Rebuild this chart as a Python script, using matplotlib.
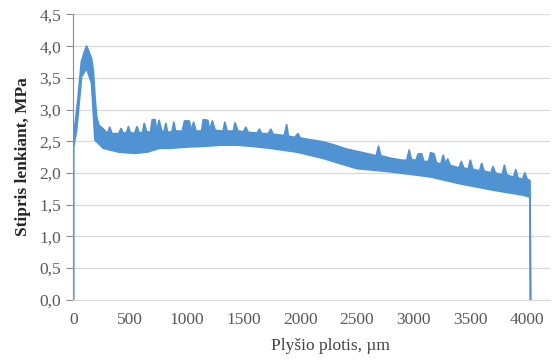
import numpy as np
import matplotlib
matplotlib.use("Agg")
import matplotlib.pyplot as plt
from matplotlib.ticker import FuncFormatter

# Viršutinė juostos riba (x, um ; y, MPa) nuskaityta nuo paveikslo
up_x = [0, 0, 20, 42, 70, 95, 116, 135, 160, 175, 190, 205, 225, 260, 300, 320, 340, 400,
        420, 440, 470, 485, 500, 540, 560, 580, 610, 625, 645, 680, 695, 720, 735, 755,
        780, 800, 815, 830, 870, 885, 900, 960, 980, 1020, 1040, 1060, 1080, 1130, 1145,
        1185, 1200, 1225, 1250, 1320, 1335, 1355, 1410, 1425, 1450, 1500, 1520, 1540,
        1620, 1640, 1660, 1720, 1740, 1760, 1860, 1880, 1895, 1950, 1980, 2000, 2100,
        2200, 2300, 2400, 2500, 2600, 2670, 2690, 2710, 2800, 2900, 2940, 2960, 2980,
        3020, 3040, 3070, 3090, 3130, 3150, 3180, 3200, 3240, 3260, 3280, 3300, 3320,
        3400, 3420, 3440, 3480, 3500, 3520, 3580, 3600, 3620, 3680, 3700, 3720, 3780,
        3800, 3820, 3880, 3900, 3920, 3960, 3980, 4000, 4025, 4030]
up_y = [0.0, 2.55, 2.85, 3.20, 3.75, 3.90, 4.00, 3.92, 3.80, 3.62, 3.20, 2.88, 2.75, 2.70,
        2.62, 2.72, 2.62, 2.62, 2.70, 2.62, 2.64, 2.73, 2.64, 2.62, 2.73, 2.63, 2.64, 2.78,
        2.65, 2.64, 2.84, 2.84, 2.65, 2.83, 2.65, 2.66, 2.78, 2.64, 2.65, 2.80, 2.66, 2.66,
        2.82, 2.82, 2.67, 2.80, 2.66, 2.66, 2.84, 2.83, 2.67, 2.82, 2.67, 2.66, 2.80, 2.66,
        2.66, 2.79, 2.66, 2.65, 2.72, 2.64, 2.63, 2.69, 2.62, 2.62, 2.69, 2.61, 2.59, 2.76,
        2.58, 2.56, 2.62, 2.55, 2.52, 2.49, 2.44, 2.38, 2.34, 2.30, 2.27, 2.42, 2.27, 2.23,
        2.20, 2.20, 2.36, 2.21, 2.20, 2.30, 2.30, 2.18, 2.18, 2.32, 2.30, 2.16, 2.14, 2.28,
        2.14, 2.22, 2.12, 2.08, 2.18, 2.08, 2.06, 2.20, 2.06, 2.03, 2.15, 2.03, 2.00, 2.10,
        2.00, 1.97, 2.12, 1.97, 1.93, 2.05, 1.92, 1.90, 2.00, 1.90, 1.88, 0.0]

# Apatinė juostos riba
lo_x = [0, 0, 28, 72, 116, 160, 190, 263, 400, 540, 650, 763, 851, 1000, 1142, 1300, 1442,
        1584, 1733, 1970, 2203, 2497, 2790, 2967, 3144, 3409, 3700, 3967, 4025, 4030]
lo_y = [0.0, 2.40, 2.67, 3.52, 3.65, 3.42, 2.52, 2.39, 2.33, 2.31, 2.33, 2.39, 2.39, 2.41,
        2.42, 2.44, 2.44, 2.42, 2.39, 2.33, 2.23, 2.07, 2.02, 1.98, 1.94, 1.83, 1.73, 1.65,
        1.62, 0.0]

y_ticks = [0.0, 0.5, 1.0, 1.5, 2.0, 2.5, 3.0, 3.5, 4.0, 4.5]
x_ticks = [0, 500, 1000, 1500, 2000, 2500, 3000, 3500, 4000]

plt.rcParams['font.family'] = ['Liberation Serif', 'DejaVu Serif']

fig = plt.figure(figsize=(5.52, 3.62), dpi=100)
ax = fig.add_axes([0.133, 0.172, 0.863, 0.788])

blue = '#5093d3'
px = np.r_[up_x, lo_x[::-1]]
py = np.r_[up_y, lo_y[::-1]]
ax.fill(px, py, color=blue, lw=0)
ax.plot(up_x, up_y, color=blue, lw=1.3)
ax.plot(lo_x, lo_y, color=blue, lw=1.3)

ax.set_xlim(0, 4200)
ax.set_ylim(0, 4.5)
ax.set_yticks(y_ticks)
ax.set_xticks(x_ticks)
ax.yaxis.set_major_formatter(FuncFormatter(lambda v, p: ('%.1f' % v).replace('.', ',')))

ax.grid(axis='y', color='#d9d9d9', lw=0.9)
ax.set_axisbelow(True)
for s in ['top', 'right']:
    ax.spines[s].set_visible(False)
ax.spines['left'].set_color('#8c8c8c')
ax.spines['bottom'].set_color('#d9d9d9')
ax.tick_params(axis='y', length=5, color='#8c8c8c', labelsize=12.5, labelcolor='#595959', pad=4)
ax.tick_params(axis='x', length=0, labelsize=12.5, labelcolor='#595959', pad=9)

ax.set_ylabel('Stipris lenkiant, MPa', fontsize=12.5, fontweight='bold', color='#262626', labelpad=6)
ax.set_xlabel('Plyšio plotis, µm', fontsize=12.5, color='#404040', labelpad=6)
ax.xaxis.set_label_coords(0.54, -0.135)

fig.savefig('out.png', dpi=100)
